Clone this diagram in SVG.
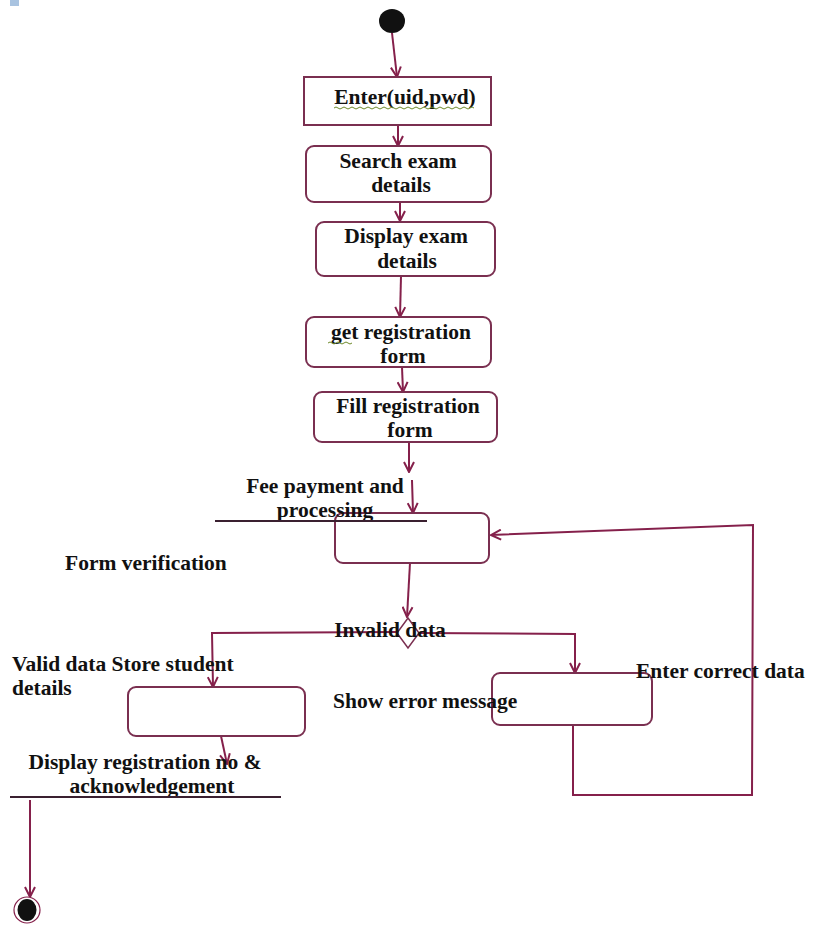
<svg xmlns="http://www.w3.org/2000/svg" width="813" height="925" viewBox="0 0 813 925">
  <style>
    .box { fill: #ffffff; stroke: #7a2f50; stroke-width: 2; }
    .lbl { font-family: "Liberation Serif", "Times New Roman", serif; font-weight: bold; font-size: 21.5px; fill: #111111; }
    .mid { text-anchor: middle; }
    .flow { fill: none; stroke: #85204b; stroke-width: 2; }
    .bar { fill: none; stroke: #3a2030; stroke-width: 2; }
  </style>
  <defs>
    <marker id="open" viewBox="0 0 12 12" refX="11" refY="6" markerWidth="12" markerHeight="12" markerUnits="userSpaceOnUse" orient="auto">
      <path d="M1,1 L11,6 L1,11" fill="none" stroke="#85204b" stroke-width="2"/>
    </marker>
  </defs>

  <rect width="813" height="925" fill="#ffffff"/>
  <rect x="10" y="0" width="9" height="6" fill="#a9c3e0"/>

  <!-- connectors -->
  <g id="connectors">
    <path class="flow" d="M392,33 L397,77" marker-end="url(#open)"/>
    <path class="flow" d="M398,125 L398,146" marker-end="url(#open)"/>
    <path class="flow" d="M400,202 L400,221" marker-end="url(#open)"/>
    <path class="flow" d="M401,276 L400,317" marker-end="url(#open)"/>
    <path class="flow" d="M402,367 L403,392" marker-end="url(#open)"/>
    <path class="flow" d="M409,442 L409,472" marker-end="url(#open)"/>
    <path class="flow" d="M412,480 L413,513" marker-end="url(#open)"/>
    <path class="flow" d="M410,563 L407,617" marker-end="url(#open)"/>
    <path class="flow" d="M397,632 L212,633 L213,687" marker-end="url(#open)"/>
    <path class="flow" d="M419,633 L575,634 L575,673" marker-end="url(#open)"/>
    <path class="flow" d="M221,736 L227,764" marker-end="url(#open)"/>
    <path class="flow" d="M573,725 L573,795 L752,795 L753,525 L491,535" marker-end="url(#open)"/>
    <path class="flow" d="M30,800 L30,897" marker-end="url(#open)"/>
  </g>

  <!-- start -->
  <g id="start">
    <ellipse cx="392" cy="21" rx="13" ry="12" fill="#111111"/>
  </g>

  <g id="enter">
    <rect class="box" x="304" y="77" width="187" height="48"/>
    <text class="lbl mid" x="405" y="104">Enter(uid,pwd)</text>
    <path d="M334,108 q2,-2 4,0 t4,0 t4,0 t4,0 t4,0 t4,0 t4,0 t4,0 t4,0 t4,0 t4,0 t4,0 t4,0 t4,0 t4,0 t4,0 t4,0 t4,0 t4,0 t4,0 t4,0 t4,0 t4,0 t4,0 t4,0 t4,0 t4,0 t4,0 t4,0 t4,0 t4,0 t4,0 t4,0 t4,0 t4,0" fill="none" stroke="#6e8a2a" stroke-width="1"/>
  </g>

  <g id="search">
    <rect class="box" x="306" y="146" width="185" height="56" rx="8"/>
    <text class="lbl mid" x="398" y="168">Search exam</text>
    <text class="lbl mid" x="401" y="192">details</text>
  </g>

  <g id="display">
    <rect class="box" x="316" y="222" width="179" height="54" rx="8"/>
    <text class="lbl mid" x="406" y="243">Display exam</text>
    <text class="lbl mid" x="407" y="268">details</text>
  </g>

  <g id="getform">
    <rect class="box" x="306" y="317" width="185" height="50" rx="8"/>
    <text class="lbl mid" x="401" y="339">get registration</text>
    <text class="lbl mid" x="403" y="363">form</text>
    <path d="M328,343 q2,-2 4,0 t4,0 t4,0 t4,0 t4,0 t4,0" fill="none" stroke="#6e8a2a" stroke-width="1"/>
  </g>

  <g id="fillform">
    <rect class="box" x="314" y="392" width="183" height="50" rx="8"/>
    <text class="lbl mid" x="408" y="413">Fill registration</text>
    <text class="lbl mid" x="410" y="437">form</text>
  </g>

  <g id="verify">
    <rect class="box" x="335" y="513" width="154" height="50" rx="8"/>
    <text class="lbl" x="65" y="570">Form verification</text>
  </g>

  <g id="fee">
    <text class="lbl mid" x="325" y="493">Fee payment and</text>
    <text class="lbl mid" x="325" y="517">processing</text>
    <line class="bar" x1="215" y1="521" x2="427" y2="521"/>
  </g>

  <g id="decision">
    <path d="M408,618 L419,633 L408,648 L397,633 Z" fill="#ffffff" stroke="#7a2f50" stroke-width="1.5"/>
    <text class="lbl mid" x="390" y="637">Invalid data</text>
  </g>

  <g id="store">
    <rect class="box" x="128" y="687" width="177" height="49" rx="8"/>
    <text class="lbl" x="12" y="671">Valid data Store student</text>
    <text class="lbl" x="12" y="695">details</text>
  </g>

  <g id="error">
    <rect class="box" x="492" y="673" width="160" height="52" rx="8"/>
    <text class="lbl" x="333" y="708">Show error message</text>
    <text class="lbl" x="636" y="678">Enter correct data</text>
  </g>

  <g id="ack">
    <text class="lbl mid" x="145" y="769">Display registration no &amp;</text>
    <text class="lbl mid" x="152" y="793">acknowledgement</text>
    <line class="bar" x1="10" y1="797" x2="281" y2="797"/>
  </g>

  <g id="end">
    <ellipse cx="27" cy="910" rx="13" ry="13" fill="#ffffff" stroke="#85204b" stroke-width="1.2"/>
    <ellipse cx="27" cy="910" rx="9.5" ry="11" fill="#111111"/>
  </g>
</svg>
